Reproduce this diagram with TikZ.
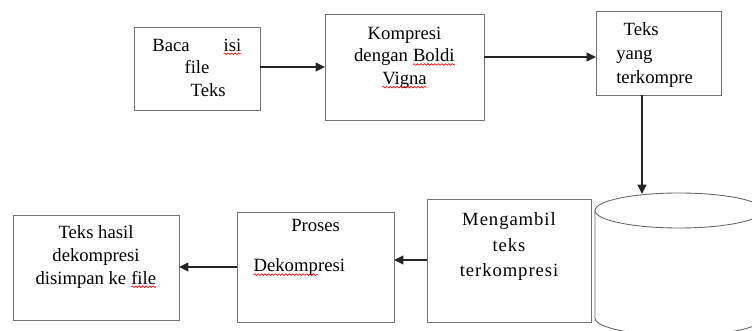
\documentclass[tikz,border=0pt]{standalone}
\usepackage{fontspec}
\setmainfont{Liberation Serif}
\usetikzlibrary{arrows.meta,decorations.pathmorphing}
% red spell-check wave under a word
\newcommand{\typo}[1]{\tikz[baseline=(typo_word.base)]{\node[inner sep=0pt, outer sep=0pt] (typo_word) {#1};
  \draw[red, line width=0.5pt, decorate, decoration={snake, amplitude=0.6pt, segment length=2.6pt}] ([yshift=-2pt]typo_word.base west) -- ([yshift=-2pt]typo_word.base east);}}

\begin{document}
\begin{tikzpicture}[
            x=0.75pt, y=-0.75pt,
            box/.style={rectangle, draw=black!55, line width=0.65pt, inner sep=0pt, outer sep=0pt},
            txt/.style={inner sep=0pt, align=center, font=\fontsize{14}{17}\selectfont},
            flow/.style={-{Triangle[length=7pt,width=6.5pt]}, line width=1.5pt, black!85},
            disk/.style={draw=black!60, line width=0.65pt}
    ]
        \useasboundingbox (0,0) rectangle (752,331);
        \clip (0,0) rectangle (752,331);

        % Upper row
        \node[box, minimum width=94.5pt, minimum height=62.25pt] (baca) at (197,68.5) {};
        \node[txt, anchor=north] (baca_txt) at ([yshift=-8.6pt]baca.north) {Baca\hspace{1.8em}\typo{isi}\\file\\\hspace{1.2em}Teks};

        \node[box, minimum width=119.25pt, minimum height=79.5pt] (kompresi) at (404.5,67) {};
        \node[txt, anchor=north] (kompresi_txt) at ([yshift=-9.4pt]kompresi.north) {Kompresi\\dengan \typo{Boldi}\\\typo{Vigna}};

        \node[box, minimum width=93.75pt, minimum height=63pt] (teks) at (658.5,53) {};
        \node[txt, align=left, anchor=north west, font=\fontsize{14}{18}\selectfont] (teks_txt) at ([xshift=15pt,yshift=-8.6pt]teks.north west) {\hspace{0.4em}Teks\\yang\\terkompre};

        % Storage
        \coordinate (disk_top) at (642,194);
        \draw[disk, fill=white] (595,210.5) -- (595,318) arc (180:0:84 and 17.5) -- (763,210.5);
        \draw[disk] (679,210.5) ellipse (84 and 17.5);

        % Lower row
        \node[box, minimum width=123pt, minimum height=92.25pt] (ambil) at (509,260.5) {};
        \node[txt, anchor=north, font=\fontsize{14}{19}\selectfont\addfontfeatures{LetterSpace=5}] (ambil_txt) at ([yshift=-10.1pt]ambil.north) {Mengambil\\teks\\terkompresi};

        \node[box, minimum width=117.75pt, minimum height=82.5pt] (proses) at (315.5,267) {};
        \node[txt, align=left, anchor=north west] (proses_txt) at ([xshift=12pt,yshift=-5.6pt]proses.north west) {\hspace{28.5pt}Proses\\[13pt]\typo{Dekomp}resi};

        \node[box, minimum width=124.5pt, minimum height=78.75pt] (hasil) at (96,267.5) {};
        \node[txt, anchor=north] (hasil_txt) at ([yshift=-7.9pt]hasil.north) {Teks hasil\\dekompresi\\disimpan ke \typo{file}};

        % Arrows
        \draw[flow] (kompresi.west -| baca.east) -- (kompresi.west);
        \draw[flow] ([yshift=7.5pt]kompresi.east) -- ([yshift=7.5pt]kompresi.east -| teks.west);
        \draw[flow] (disk_top |- teks.south) -- (disk_top);
        \draw[flow] ([yshift=0.375pt]ambil.west) -- ([yshift=0.375pt]ambil.west -| proses.east);
        \draw[flow] (proses.west) -- (proses.west -| hasil.east);

    \end{tikzpicture}
\end{document}
